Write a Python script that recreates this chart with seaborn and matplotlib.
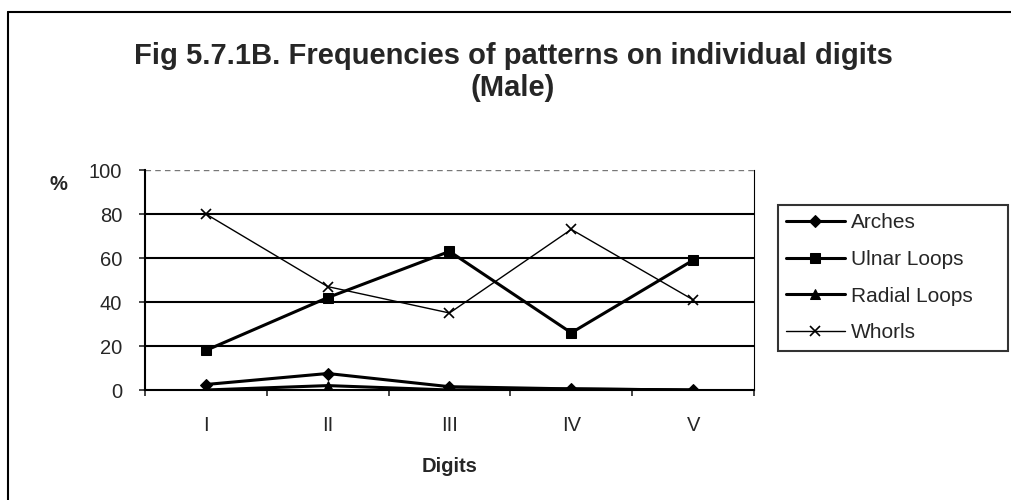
import matplotlib
matplotlib.use("Agg")
import matplotlib.pyplot as plt
import seaborn as sns
import pandas as pd

# values
digits = ["I", "II", "III", "IV", "V"]
arches = [2.5, 7.5, 1.5, 0.5, 0.0]
ulnar_loops = [18, 42, 63, 26, 59]
radial_loops = [0.0, 2.0, 0.0, 0.5, 0.0]
whorls = [80, 47, 35, 73, 41]
y_ticks = [0, 20, 40, 60, 80, 100]

series = {
    "Arches": arches,
    "Ulnar Loops": ulnar_loops,
    "Radial Loops": radial_loops,
    "Whorls": whorls,
}
styles = {
    "Arches": dict(marker="D", markersize=6.5, linewidth=2.2),
    "Ulnar Loops": dict(marker="s", markersize=7, linewidth=2.2),
    "Radial Loops": dict(marker="^", markersize=7.5, linewidth=2.2),
    "Whorls": dict(marker="x", markersize=7.5, linewidth=1.0, markeredgewidth=1.2),
}

df = pd.DataFrame([
    {"Digit": d, "Pattern": name, "Value": v}
    for name, vals in series.items()
    for d, v in zip(digits, vals)
])

sns.set_style("white")
plt.rcParams["font.family"] = ["Liberation Sans", "DejaVu Sans"]

fig = plt.figure(figsize=(10.12, 5.0), dpi=100)
ax = fig.add_axes([145 / 1012, 0.22, 609 / 1012, 0.44])

for name in series:
    sub = df[df["Pattern"] == name]
    sns.lineplot(data=sub, x="Digit", y="Value", color="black", ax=ax,
                 label=name, markeredgecolor="black", **styles[name])

ax.set_xlim(-0.5, len(digits) - 0.5)
ax.set_ylim(0, 100)

# gridlines at 20..80, dashed grey line at top
for yv in y_ticks[1:-1]:
    ax.axhline(yv, color="black", linewidth=1.5, zorder=1)
ax.axhline(100, color="#777777", linewidth=1.0, linestyle=(0, (4, 3)), zorder=1)

ax.spines["top"].set_visible(False)
ax.spines["left"].set_color("black")
ax.spines["left"].set_linewidth(1.5)
ax.spines["bottom"].set_color("black")
ax.spines["bottom"].set_linewidth(1.5)
ax.spines["right"].set_color("black")
ax.spines["right"].set_linewidth(0.8)

ax.set_yticks(y_ticks)
ax.tick_params(axis="y", which="major", direction="out", length=4.3, width=1.2,
               pad=12, labelsize=14.5, left=True)
ax.set_xticks(range(len(digits)))
ax.set_xticklabels(digits)
ax.tick_params(axis="x", which="major", length=0, pad=19, labelsize=14.5)
ax.set_xticks([i - 0.5 for i in range(len(digits) + 1)], minor=True)
ax.tick_params(axis="x", which="minor", direction="out", length=4, width=1.2,
               bottom=True)
ax.set_xlabel("")
ax.set_ylabel("")

leg = ax.legend(loc="upper left",
                bbox_to_anchor=(778 / 1012, 1 - 354 / 500, 230 / 1012, 149 / 500),
                bbox_transform=fig.transFigure, borderaxespad=0, mode="expand",
                fontsize=15, frameon=True, fancybox=False, handlelength=2.8,
                handletextpad=0.3, labelspacing=0.85, borderpad=0.4)
leg.get_frame().set_edgecolor("black")
leg.get_frame().set_linewidth(1.5)

fig.text(0.507, 1 - 96 / 500, "Fig 5.7.1B. Frequencies of patterns on individual digits\n(Male)",
         ha="center", va="baseline", fontsize=21, fontweight="bold", multialignment="center")
fig.text(58 / 1012, 1 - 185 / 500, "%", ha="center", va="center", fontsize=14.5, fontweight="bold")
fig.text(450 / 1012, 1 - 466 / 500, "Digits", ha="center", va="center", fontsize=14.5, fontweight="bold")

# outer chart border (left and top edges visible in the scan)
fig.add_artist(plt.Line2D([8 / 1012, 8 / 1012], [0, 1 - 12 / 500], transform=fig.transFigure,
                          color="black", linewidth=1.5))
fig.add_artist(plt.Line2D([8 / 1012, 1], [1 - 12 / 500, 1 - 12 / 500], transform=fig.transFigure,
                          color="black", linewidth=1.5))

fig.savefig("out.png", dpi=100)
